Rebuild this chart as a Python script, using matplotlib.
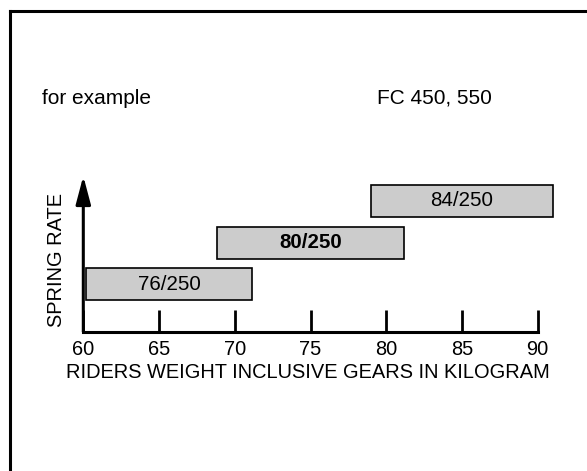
import matplotlib
matplotlib.use("Agg")
import matplotlib.pyplot as plt
from matplotlib.lines import Line2D

plt.rcParams['font.family'] = ['Liberation Sans', 'DejaVu Sans']
plt.rcParams['font.size'] = 14.4

# spring rate ranges over riders weight (kg)
levels = [1, 2, 3]
range_start = [60.2, 68.8, 79.0]
range_end = [71.15, 81.2, 91.0]
rate_labels = ['76/250', '80/250', '84/250']
label_weights = ['normal', 'bold', 'normal']
weight_ticks = [60, 65, 70, 75, 80, 85, 90]

W, H = 587, 471
fig = plt.figure(figsize=(W / 100, H / 100), dpi=100)

# frame lines along top and left edge
fig.add_artist(Line2D([10 / W, 10 / W], [0, 1 - 10.5 / H], color='black', lw=2.2,
                      transform=fig.transFigure))
fig.add_artist(Line2D([10 / W, 1], [1 - 10.5 / H, 1 - 10.5 / H], color='black', lw=2.2,
                      transform=fig.transFigure))

fig.text(41.7 / W, 1 - 104 / H, 'for example', ha='left', va='baseline', fontsize=15)
fig.text(491.7 / W, 1 - 104 / H, 'FC 450, 550', ha='right', va='baseline', fontsize=15)

ax = fig.add_axes([83.3 / W, 1 - 331.7 / H, (568 - 83.3) / W, (331.7 - 176.0) / H])
ax.set_xlim(60, 92)
ax.set_ylim(-0.142, 3.6)
ax.patch.set_alpha(0)

widths = [e - s for s, e in zip(range_start, range_end)]
ax.barh(levels, widths, left=range_start, height=0.77, color='#cccccc',
        edgecolor='black', linewidth=1.2, clip_on=False, zorder=3)
for lv, s, e, lab, fw in zip(levels, range_start, range_end, rate_labels, label_weights):
    ax.text((s + e) / 2, lv, lab, ha='center', va='center', fontweight=fw,
            fontsize=14.8, zorder=4)

for side in ['top', 'right', 'left']:
    ax.spines[side].set_visible(False)
ax.spines['bottom'].set_bounds(60, 90)
ax.spines['bottom'].set_linewidth(2.2)
ax.spines['bottom'].set_capstyle('projecting')

ax.set_xticks(weight_ticks)
ax.set_xticklabels([str(t) for t in weight_ticks])
ax.tick_params(axis='x', direction='in', length=16, width=2, pad=6)
ax.set_yticks([])

# vertical axis with arrow head
ax.annotate('', xy=(60, 3.6), xytext=(60, -0.142),
            arrowprops=dict(arrowstyle='-|>,head_length=1.7,head_width=0.45',
                            lw=2.2, color='black', mutation_scale=10,
                            shrinkA=0, shrinkB=0),
            annotation_clip=False)

ax.set_xlabel('RIDERS WEIGHT INCLUSIVE GEARS IN KILOGRAM')
ax.xaxis.label.set_va('center')
ax.xaxis.set_label_coords((307.5 - 83.3) / (568 - 83.3), (331.7 - 373) / (331.7 - 176.0))
ax.set_ylabel('SPRING RATE')
ax.yaxis.label.set_va('center')
ax.yaxis.set_label_coords((56.7 - 83.3) / (568 - 83.3), (331.7 - 260) / (331.7 - 176.0))

fig.savefig('out.png', dpi=100)
